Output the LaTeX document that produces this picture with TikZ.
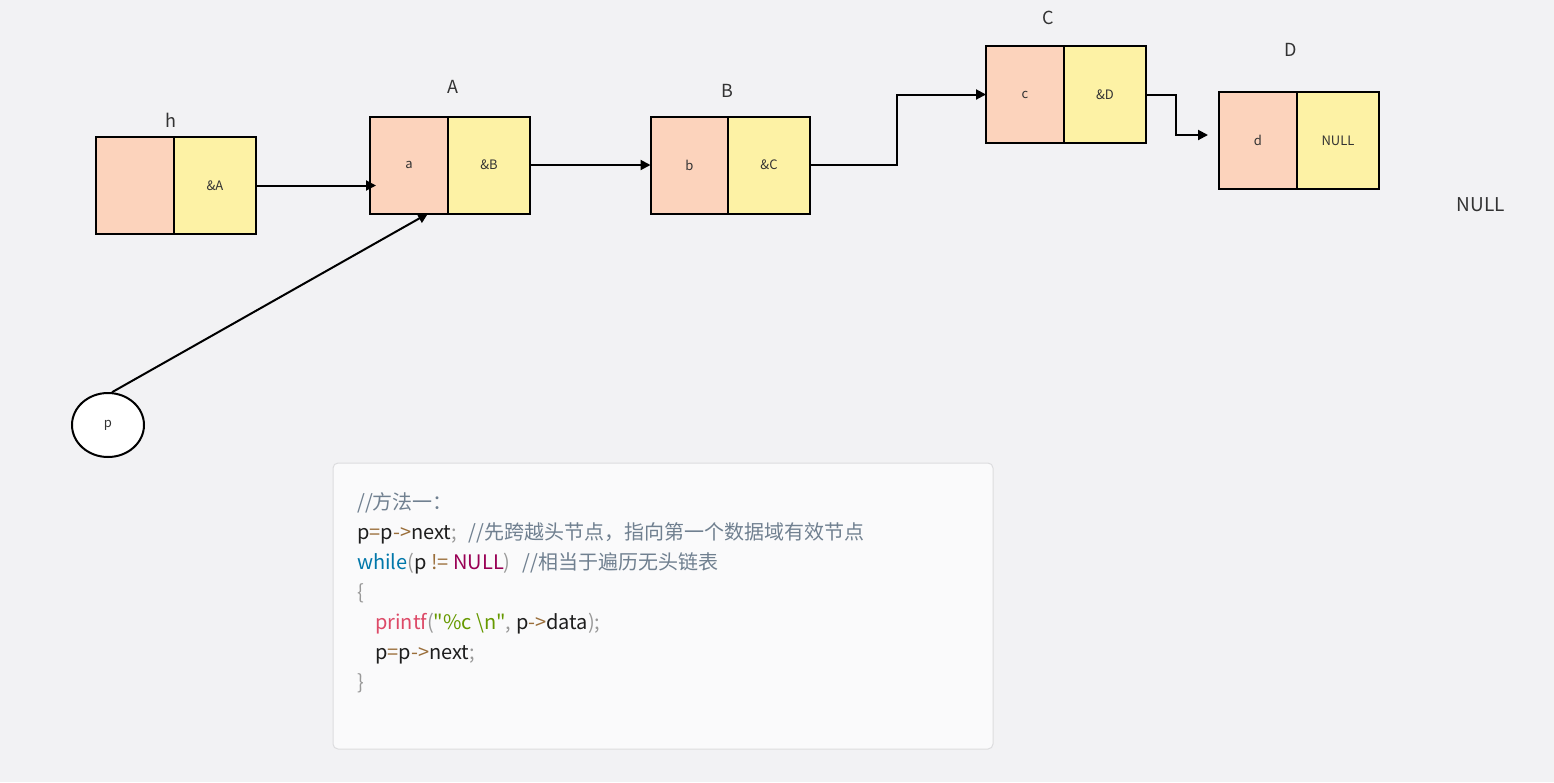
\documentclass[tikz,border=0pt]{standalone}
\usepackage{fontspec}
\newfontfamily\cjk{Noto Sans CJK SC}
\usetikzlibrary{shapes.geometric,arrows.meta}
\definecolor{bg}{HTML}{F2F2F4}
\definecolor{pinkc}{HTML}{FCD3BC}
\definecolor{yelc}{HTML}{FDF2A5}
\definecolor{txt}{HTML}{333333}
\definecolor{codebg}{HTML}{FAFAFB}
\definecolor{codebd}{HTML}{DCDCDE}
\definecolor{cmt}{HTML}{708090}
\definecolor{opc}{HTML}{9A6E3A}
\definecolor{kwc}{HTML}{0077AA}
\definecolor{constc}{HTML}{990055}
\definecolor{fnc}{HTML}{DD4A68}
\definecolor{strc}{HTML}{669900}
\definecolor{punc}{HTML}{999999}
\definecolor{plain}{HTML}{1E1E1E}
\newcommand{\cm}[1]{\textcolor{cmt}{#1}}
\newcommand{\op}[1]{\textcolor{opc}{#1}}
\newcommand{\pu}[1]{\textcolor{punc}{#1}}
\begin{document}
\begin{tikzpicture}[x=1pt,y=-1pt,
  cell/.style={draw=black,line width=2pt,inner sep=0pt,outer sep=0pt,minimum height=97pt,text=txt,font=\cjk\fontsize{13}{15}\selectfont},
  dcell/.style={cell,fill=pinkc,minimum width=78pt},
  ncell/.style={cell,fill=yelc,minimum width=82pt},
  lbl/.style={text=txt,font=\cjk\fontsize{18}{20}\selectfont,inner sep=0pt},
  arr/.style={line width=2pt,-{Triangle[length=10pt,width=10pt]}},
  codeline/.style={anchor=base west,inner sep=0pt,text=plain,font=\cjk\fontsize{20}{22}\selectfont}
]
\fill[bg] (0,0) rectangle (1554,782);
\useasboundingbox (0,0) rectangle (1554,782);

% nodes
\node[dcell] (hd) at (135,185.5) {};
\node[ncell] (hn) at (215,185.5) {\&A};
\node[dcell] (ad) at (409,165) {a};
\node[ncell] (an) at (489,165) {\&B};
\node[dcell] (bd) at (689.5,165) {b};
\node[ncell] (bn) at (769,165) {\&C};
\node[dcell] (cd) at (1025,94.5) {c};
\node[ncell] (cn) at (1105,94.5) {\&D};
\node[dcell] (dd) at (1258,140.5) {d};
\node[ncell] (dn) at (1338,140.5) {NULL};

\node[lbl] (lh) at (171,120) {h};
\node[lbl] (la) at (453,87) {A};
\node[lbl] (lb) at (727,91) {B};
\node[lbl] (lc) at (1048,18) {C};
\node[lbl] (ld) at (1291,50) {D};
\node[lbl,font=\cjk\fontsize{19}{22}\selectfont] (lnull) at (1481,205) {NULL};

\node[ellipse,draw=black,line width=2pt,fill=white,minimum width=72pt,minimum height=64pt,inner sep=0pt,text=txt,font=\cjk\fontsize{13}{15}\selectfont] (p) at (108,425) {p};

% connectors
\draw[arr] (hn.east) -- ([xshift=6pt]ad.west |- hn.east);
\draw[arr] (an.east) -- (bd.west);
\draw[arr] (bn.east) -- +(87,0) |- (cd.west);
\draw[arr] (cn.east) -- +(30,0) |- ([xshift=-11pt,yshift=5.5pt]dd.west);
\draw[arr] (p.83) -- ([xshift=19pt]ad.south);

% code block
\node[draw=codebd,fill=codebg,line width=1pt,rounded corners=5pt,minimum width=660pt,minimum height=286pt,inner sep=0pt] (code) at (663,606) {};
\node[codeline] (l1) at (357,509) {\cm{//方法一：}};
\node[codeline] (l2) at (357,539) {p\op{=}p\op{->}next\pu{;}\hspace{12pt}\cm{//先跨越头节点，指向第一个数据域有效节点}};
\node[codeline] (l3) at (357,569) {\textcolor{kwc}{while}\pu{(}p \op{!=} \textcolor{constc}{NULL}\pu{)}\hspace{12pt}\cm{//相当于遍历无头链表}};
\node[codeline] (l4) at (357,599) {\pu{\{}};
\node[codeline] (l5) at (375,629) {\textcolor{fnc}{printf}\pu{(}\textcolor{strc}{"\%c \textbackslash n"}\pu{,} p\op{->}data\pu{);}};
\node[codeline] (l6) at (375,659) {p\op{=}p\op{->}next\pu{;}};
\node[codeline] (l7) at (357,689) {\pu{\}}};
\end{tikzpicture}
\end{document}
